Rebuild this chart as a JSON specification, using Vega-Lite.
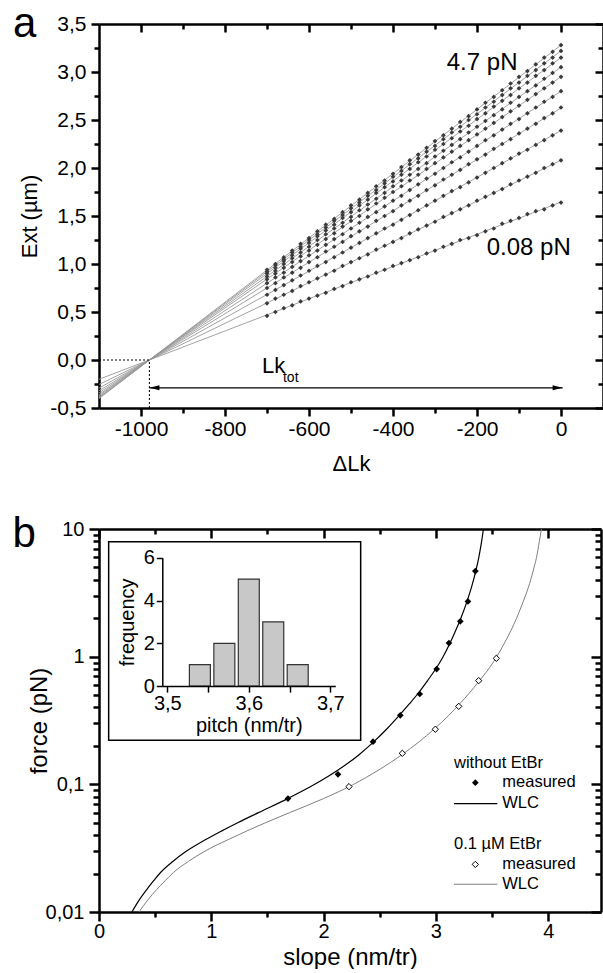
{
"$schema":"https://vega.github.io/schema/vega-lite/v6.json",
"background":"white",
"padding":{"left":12,"top":3,"right":0,"bottom":0},
"config":{"font":"Liberation Sans","view":{"stroke":null},
 "axis":{"grid":false,"domainColor":"#000","tickColor":"#000","labelColor":"#000","titleColor":"#000","titleFontWeight":"normal","labelFlush":false,"labelOverlap":false},
 "text":{"color":"#000"}},
"datasets":{
"aL":[
{"s":1,"x":-1100,"y":-0.201},{"s":1,"x":0,"y":1.645},
{"s":2,"x":-1100,"y":-0.255},{"s":2,"x":0,"y":2.08},
{"s":3,"x":-1100,"y":-0.293},{"s":3,"x":0,"y":2.39},
{"s":4,"x":-1100,"y":-0.321},{"s":4,"x":0,"y":2.625},
{"s":5,"x":-1100,"y":-0.343},{"s":5,"x":0,"y":2.8},
{"s":6,"x":-1100,"y":-0.361},{"s":6,"x":0,"y":2.95},
{"s":7,"x":-1100,"y":-0.373},{"s":7,"x":0,"y":3.05},
{"s":8,"x":-1100,"y":-0.386},{"s":8,"x":0,"y":3.15},
{"s":9,"x":-1100,"y":-0.394},{"s":9,"x":0,"y":3.22},
{"s":10,"x":-1100,"y":-0.402},{"s":10,"x":0,"y":3.28}
],
"aP":[
{"s":1,"x":-700,"y":0.46},{"s":1,"x":-680,"y":0.5},{"s":1,"x":-660,"y":0.54},{"s":1,"x":-640,"y":0.57},{"s":1,"x":-620,"y":0.61},{"s":1,"x":-600,"y":0.64},{"s":1,"x":-580,"y":0.67},{"s":1,"x":-560,"y":0.7},{"s":1,"x":-540,"y":0.74},{"s":1,"x":-520,"y":0.77},{"s":1,"x":-500,"y":0.81},{"s":1,"x":-480,"y":0.84},{"s":1,"x":-460,"y":0.87},{"s":1,"x":-440,"y":0.91},{"s":1,"x":-420,"y":0.94},{"s":1,"x":-400,"y":0.98},{"s":1,"x":-380,"y":1.01},{"s":1,"x":-360,"y":1.04},{"s":1,"x":-340,"y":1.07},{"s":1,"x":-320,"y":1.11},{"s":1,"x":-300,"y":1.14},{"s":1,"x":-280,"y":1.18},{"s":1,"x":-260,"y":1.21},{"s":1,"x":-240,"y":1.25},{"s":1,"x":-220,"y":1.27},{"s":1,"x":-200,"y":1.3},{"s":1,"x":-180,"y":1.34},{"s":1,"x":-160,"y":1.37},{"s":1,"x":-140,"y":1.42},{"s":1,"x":-120,"y":1.45},{"s":1,"x":-100,"y":1.48},{"s":1,"x":-80,"y":1.52},{"s":1,"x":-60,"y":1.55},{"s":1,"x":-40,"y":1.57},{"s":1,"x":-20,"y":1.61},{"s":1,"x":0,"y":1.64},
{"s":2,"x":-700,"y":0.59},{"s":2,"x":-680,"y":0.64},{"s":2,"x":-660,"y":0.68},{"s":2,"x":-640,"y":0.72},{"s":2,"x":-620,"y":0.77},{"s":2,"x":-600,"y":0.81},{"s":2,"x":-580,"y":0.85},{"s":2,"x":-560,"y":0.89},{"s":2,"x":-540,"y":0.93},{"s":2,"x":-520,"y":0.98},{"s":2,"x":-500,"y":1.02},{"s":2,"x":-480,"y":1.06},{"s":2,"x":-460,"y":1.1},{"s":2,"x":-440,"y":1.15},{"s":2,"x":-420,"y":1.19},{"s":2,"x":-400,"y":1.23},{"s":2,"x":-380,"y":1.27},{"s":2,"x":-360,"y":1.32},{"s":2,"x":-340,"y":1.36},{"s":2,"x":-320,"y":1.4},{"s":2,"x":-300,"y":1.44},{"s":2,"x":-280,"y":1.49},{"s":2,"x":-260,"y":1.53},{"s":2,"x":-240,"y":1.57},{"s":2,"x":-220,"y":1.61},{"s":2,"x":-200,"y":1.66},{"s":2,"x":-180,"y":1.7},{"s":2,"x":-160,"y":1.74},{"s":2,"x":-140,"y":1.78},{"s":2,"x":-120,"y":1.83},{"s":2,"x":-100,"y":1.87},{"s":2,"x":-80,"y":1.91},{"s":2,"x":-60,"y":1.95},{"s":2,"x":-40,"y":2.0},{"s":2,"x":-20,"y":2.04},{"s":2,"x":0,"y":2.08},
{"s":3,"x":-700,"y":0.68},{"s":3,"x":-680,"y":0.73},{"s":3,"x":-660,"y":0.78},{"s":3,"x":-640,"y":0.83},{"s":3,"x":-620,"y":0.88},{"s":3,"x":-600,"y":0.93},{"s":3,"x":-580,"y":0.98},{"s":3,"x":-560,"y":1.02},{"s":3,"x":-540,"y":1.07},{"s":3,"x":-520,"y":1.12},{"s":3,"x":-500,"y":1.17},{"s":3,"x":-480,"y":1.22},{"s":3,"x":-460,"y":1.27},{"s":3,"x":-440,"y":1.32},{"s":3,"x":-420,"y":1.37},{"s":3,"x":-400,"y":1.41},{"s":3,"x":-380,"y":1.46},{"s":3,"x":-360,"y":1.51},{"s":3,"x":-340,"y":1.56},{"s":3,"x":-320,"y":1.61},{"s":3,"x":-300,"y":1.66},{"s":3,"x":-280,"y":1.71},{"s":3,"x":-260,"y":1.76},{"s":3,"x":-240,"y":1.8},{"s":3,"x":-220,"y":1.85},{"s":3,"x":-200,"y":1.9},{"s":3,"x":-180,"y":1.95},{"s":3,"x":-160,"y":2.0},{"s":3,"x":-140,"y":2.05},{"s":3,"x":-120,"y":2.1},{"s":3,"x":-100,"y":2.15},{"s":3,"x":-80,"y":2.19},{"s":3,"x":-60,"y":2.24},{"s":3,"x":-40,"y":2.29},{"s":3,"x":-20,"y":2.34},{"s":3,"x":0,"y":2.39},
{"s":4,"x":-700,"y":0.75},{"s":4,"x":-680,"y":0.8},{"s":4,"x":-660,"y":0.86},{"s":4,"x":-640,"y":0.91},{"s":4,"x":-620,"y":0.96},{"s":4,"x":-600,"y":1.02},{"s":4,"x":-580,"y":1.07},{"s":4,"x":-560,"y":1.13},{"s":4,"x":-540,"y":1.18},{"s":4,"x":-520,"y":1.23},{"s":4,"x":-500,"y":1.29},{"s":4,"x":-480,"y":1.34},{"s":4,"x":-460,"y":1.39},{"s":4,"x":-440,"y":1.45},{"s":4,"x":-420,"y":1.5},{"s":4,"x":-400,"y":1.55},{"s":4,"x":-380,"y":1.61},{"s":4,"x":-360,"y":1.66},{"s":4,"x":-340,"y":1.71},{"s":4,"x":-320,"y":1.77},{"s":4,"x":-300,"y":1.82},{"s":4,"x":-280,"y":1.88},{"s":4,"x":-260,"y":1.93},{"s":4,"x":-240,"y":1.98},{"s":4,"x":-220,"y":2.04},{"s":4,"x":-200,"y":2.09},{"s":4,"x":-180,"y":2.14},{"s":4,"x":-160,"y":2.2},{"s":4,"x":-140,"y":2.25},{"s":4,"x":-120,"y":2.3},{"s":4,"x":-100,"y":2.36},{"s":4,"x":-80,"y":2.41},{"s":4,"x":-60,"y":2.46},{"s":4,"x":-40,"y":2.52},{"s":4,"x":-20,"y":2.57},{"s":4,"x":0,"y":2.63},
{"s":5,"x":-700,"y":0.8},{"s":5,"x":-680,"y":0.86},{"s":5,"x":-660,"y":0.91},{"s":5,"x":-640,"y":0.97},{"s":5,"x":-620,"y":1.03},{"s":5,"x":-600,"y":1.09},{"s":5,"x":-580,"y":1.14},{"s":5,"x":-560,"y":1.2},{"s":5,"x":-540,"y":1.26},{"s":5,"x":-520,"y":1.31},{"s":5,"x":-500,"y":1.37},{"s":5,"x":-480,"y":1.43},{"s":5,"x":-460,"y":1.49},{"s":5,"x":-440,"y":1.54},{"s":5,"x":-420,"y":1.6},{"s":5,"x":-400,"y":1.66},{"s":5,"x":-380,"y":1.71},{"s":5,"x":-360,"y":1.77},{"s":5,"x":-340,"y":1.83},{"s":5,"x":-320,"y":1.89},{"s":5,"x":-300,"y":1.94},{"s":5,"x":-280,"y":2.0},{"s":5,"x":-260,"y":2.06},{"s":5,"x":-240,"y":2.11},{"s":5,"x":-220,"y":2.17},{"s":5,"x":-200,"y":2.23},{"s":5,"x":-180,"y":2.29},{"s":5,"x":-160,"y":2.34},{"s":5,"x":-140,"y":2.4},{"s":5,"x":-120,"y":2.46},{"s":5,"x":-100,"y":2.51},{"s":5,"x":-80,"y":2.57},{"s":5,"x":-60,"y":2.63},{"s":5,"x":-40,"y":2.69},{"s":5,"x":-20,"y":2.74},{"s":5,"x":0,"y":2.8},
{"s":6,"x":-700,"y":0.84},{"s":6,"x":-680,"y":0.9},{"s":6,"x":-660,"y":0.96},{"s":6,"x":-640,"y":1.02},{"s":6,"x":-620,"y":1.08},{"s":6,"x":-600,"y":1.14},{"s":6,"x":-580,"y":1.2},{"s":6,"x":-560,"y":1.26},{"s":6,"x":-540,"y":1.32},{"s":6,"x":-520,"y":1.39},{"s":6,"x":-500,"y":1.45},{"s":6,"x":-480,"y":1.5},{"s":6,"x":-460,"y":1.57},{"s":6,"x":-440,"y":1.63},{"s":6,"x":-420,"y":1.69},{"s":6,"x":-400,"y":1.75},{"s":6,"x":-380,"y":1.81},{"s":6,"x":-360,"y":1.87},{"s":6,"x":-340,"y":1.93},{"s":6,"x":-320,"y":1.99},{"s":6,"x":-300,"y":2.05},{"s":6,"x":-280,"y":2.11},{"s":6,"x":-260,"y":2.17},{"s":6,"x":-240,"y":2.23},{"s":6,"x":-220,"y":2.29},{"s":6,"x":-200,"y":2.35},{"s":6,"x":-180,"y":2.41},{"s":6,"x":-160,"y":2.47},{"s":6,"x":-140,"y":2.53},{"s":6,"x":-120,"y":2.59},{"s":6,"x":-100,"y":2.65},{"s":6,"x":-80,"y":2.71},{"s":6,"x":-60,"y":2.77},{"s":6,"x":-40,"y":2.83},{"s":6,"x":-20,"y":2.89},{"s":6,"x":0,"y":2.95},
{"s":7,"x":-700,"y":0.87},{"s":7,"x":-680,"y":0.93},{"s":7,"x":-660,"y":1.0},{"s":7,"x":-640,"y":1.06},{"s":7,"x":-620,"y":1.12},{"s":7,"x":-600,"y":1.18},{"s":7,"x":-580,"y":1.25},{"s":7,"x":-560,"y":1.31},{"s":7,"x":-540,"y":1.37},{"s":7,"x":-520,"y":1.43},{"s":7,"x":-500,"y":1.49},{"s":7,"x":-480,"y":1.56},{"s":7,"x":-460,"y":1.62},{"s":7,"x":-440,"y":1.68},{"s":7,"x":-420,"y":1.74},{"s":7,"x":-400,"y":1.81},{"s":7,"x":-380,"y":1.87},{"s":7,"x":-360,"y":1.93},{"s":7,"x":-340,"y":1.99},{"s":7,"x":-320,"y":2.05},{"s":7,"x":-300,"y":2.12},{"s":7,"x":-280,"y":2.18},{"s":7,"x":-260,"y":2.24},{"s":7,"x":-240,"y":2.3},{"s":7,"x":-220,"y":2.37},{"s":7,"x":-200,"y":2.43},{"s":7,"x":-180,"y":2.49},{"s":7,"x":-160,"y":2.55},{"s":7,"x":-140,"y":2.61},{"s":7,"x":-120,"y":2.68},{"s":7,"x":-100,"y":2.74},{"s":7,"x":-80,"y":2.8},{"s":7,"x":-60,"y":2.86},{"s":7,"x":-40,"y":2.93},{"s":7,"x":-20,"y":2.99},{"s":7,"x":0,"y":3.05},
{"s":8,"x":-700,"y":0.9},{"s":8,"x":-680,"y":0.96},{"s":8,"x":-660,"y":1.03},{"s":8,"x":-640,"y":1.09},{"s":8,"x":-620,"y":1.16},{"s":8,"x":-600,"y":1.22},{"s":8,"x":-580,"y":1.29},{"s":8,"x":-560,"y":1.35},{"s":8,"x":-540,"y":1.41},{"s":8,"x":-520,"y":1.48},{"s":8,"x":-500,"y":1.54},{"s":8,"x":-480,"y":1.61},{"s":8,"x":-460,"y":1.67},{"s":8,"x":-440,"y":1.74},{"s":8,"x":-420,"y":1.8},{"s":8,"x":-400,"y":1.86},{"s":8,"x":-380,"y":1.93},{"s":8,"x":-360,"y":1.99},{"s":8,"x":-340,"y":2.06},{"s":8,"x":-320,"y":2.12},{"s":8,"x":-300,"y":2.19},{"s":8,"x":-280,"y":2.25},{"s":8,"x":-260,"y":2.31},{"s":8,"x":-240,"y":2.38},{"s":8,"x":-220,"y":2.44},{"s":8,"x":-200,"y":2.51},{"s":8,"x":-180,"y":2.57},{"s":8,"x":-160,"y":2.64},{"s":8,"x":-140,"y":2.7},{"s":8,"x":-120,"y":2.76},{"s":8,"x":-100,"y":2.83},{"s":8,"x":-80,"y":2.89},{"s":8,"x":-60,"y":2.96},{"s":8,"x":-40,"y":3.02},{"s":8,"x":-20,"y":3.09},{"s":8,"x":0,"y":3.15},
{"s":9,"x":-700,"y":0.92},{"s":9,"x":-680,"y":0.99},{"s":9,"x":-660,"y":1.05},{"s":9,"x":-640,"y":1.12},{"s":9,"x":-620,"y":1.18},{"s":9,"x":-600,"y":1.25},{"s":9,"x":-580,"y":1.31},{"s":9,"x":-560,"y":1.38},{"s":9,"x":-540,"y":1.45},{"s":9,"x":-520,"y":1.51},{"s":9,"x":-500,"y":1.58},{"s":9,"x":-480,"y":1.64},{"s":9,"x":-460,"y":1.71},{"s":9,"x":-440,"y":1.77},{"s":9,"x":-420,"y":1.84},{"s":9,"x":-400,"y":1.91},{"s":9,"x":-380,"y":1.97},{"s":9,"x":-360,"y":2.04},{"s":9,"x":-340,"y":2.1},{"s":9,"x":-320,"y":2.17},{"s":9,"x":-300,"y":2.23},{"s":9,"x":-280,"y":2.3},{"s":9,"x":-260,"y":2.37},{"s":9,"x":-240,"y":2.43},{"s":9,"x":-220,"y":2.5},{"s":9,"x":-200,"y":2.56},{"s":9,"x":-180,"y":2.63},{"s":9,"x":-160,"y":2.69},{"s":9,"x":-140,"y":2.76},{"s":9,"x":-120,"y":2.83},{"s":9,"x":-100,"y":2.89},{"s":9,"x":-80,"y":2.96},{"s":9,"x":-60,"y":3.02},{"s":9,"x":-40,"y":3.09},{"s":9,"x":-20,"y":3.15},{"s":9,"x":0,"y":3.22},
{"s":10,"x":-700,"y":0.94},{"s":10,"x":-680,"y":1.0},{"s":10,"x":-660,"y":1.07},{"s":10,"x":-640,"y":1.14},{"s":10,"x":-620,"y":1.21},{"s":10,"x":-600,"y":1.27},{"s":10,"x":-580,"y":1.34},{"s":10,"x":-560,"y":1.41},{"s":10,"x":-540,"y":1.47},{"s":10,"x":-520,"y":1.54},{"s":10,"x":-500,"y":1.61},{"s":10,"x":-480,"y":1.67},{"s":10,"x":-460,"y":1.74},{"s":10,"x":-440,"y":1.81},{"s":10,"x":-420,"y":1.87},{"s":10,"x":-400,"y":1.94},{"s":10,"x":-380,"y":2.01},{"s":10,"x":-360,"y":2.08},{"s":10,"x":-340,"y":2.14},{"s":10,"x":-320,"y":2.21},{"s":10,"x":-300,"y":2.28},{"s":10,"x":-280,"y":2.34},{"s":10,"x":-260,"y":2.41},{"s":10,"x":-240,"y":2.48},{"s":10,"x":-220,"y":2.54},{"s":10,"x":-200,"y":2.61},{"s":10,"x":-180,"y":2.68},{"s":10,"x":-160,"y":2.74},{"s":10,"x":-140,"y":2.81},{"s":10,"x":-120,"y":2.88},{"s":10,"x":-100,"y":2.95},{"s":10,"x":-80,"y":3.01},{"s":10,"x":-60,"y":3.08},{"s":10,"x":-40,"y":3.15},{"s":10,"x":-20,"y":3.21},{"s":10,"x":0,"y":3.28}
],
"aD":[{"x":-1100,"x2":-980,"y":0,"y2":0},{"x":-980,"x2":-980,"y":-0.5,"y2":0}],
"aA":[{"x":-980,"x2":4,"y":-0.29}],
"aH":[{"x":-968,"y":-0.29,"d":"L"},{"x":-8,"y":-0.29,"d":"R"}],
"aT":[{"x":-272,"y":3.09,"t":"4.7 pN"},{"x":-177,"y":1.165,"t":"0.08 pN"}],
"aLk":[{"x":-712,"y":-0.14,"t":"Lk"}],
"aTot":[{"x":-662,"y":-0.233,"t":"tot"}],
"aLab":[{"x":-1305,"y":3.36,"t":"a"}],
"bK":[{"x":0.293,"y":0.01},{"x":0.36,"y":0.0125},{"x":0.425,"y":0.015},{"x":0.485,"y":0.0175},{"x":0.548,"y":0.0204},{"x":0.66,"y":0.025},{"x":0.78,"y":0.03},{"x":0.955,"y":0.0371},{"x":1.09,"y":0.043},{"x":1.235,"y":0.05},{"x":1.42,"y":0.06},{"x":1.68,"y":0.0773},{"x":1.921,"y":0.1},{"x":2.132,"y":0.13},{"x":2.313,"y":0.17},{"x":2.448,"y":0.216},{"x":2.56,"y":0.27},{"x":2.674,"y":0.347},{"x":2.767,"y":0.43},{"x":2.837,"y":0.51},{"x":2.926,"y":0.65},{"x":2.998,"y":0.8},{"x":3.064,"y":1.0},{"x":3.126,"y":1.28},{"x":3.176,"y":1.6},{"x":3.222,"y":2.0},{"x":3.277,"y":2.71},{"x":3.317,"y":3.5},{"x":3.355,"y":4.68},{"x":3.382,"y":6},{"x":3.407,"y":8},{"x":3.423,"y":10}],
"bG":[{"x":0.356,"y":0.01},{"x":0.437,"y":0.0125},{"x":0.514,"y":0.015},{"x":0.587,"y":0.0175},{"x":0.663,"y":0.0204},{"x":0.799,"y":0.025},{"x":0.944,"y":0.03},{"x":1.156,"y":0.0371},{"x":1.313,"y":0.043},{"x":1.482,"y":0.05},{"x":1.697,"y":0.06},{"x":1.999,"y":0.0773},{"x":2.267,"y":0.1},{"x":2.494,"y":0.13},{"x":2.695,"y":0.17},{"x":2.852,"y":0.216},{"x":2.982,"y":0.27},{"x":3.115,"y":0.347},{"x":3.215,"y":0.43},{"x":3.291,"y":0.51},{"x":3.388,"y":0.65},{"x":3.469,"y":0.8},{"x":3.542,"y":1.0},{"x":3.611,"y":1.28},{"x":3.668,"y":1.6},{"x":3.718,"y":2.0},{"x":3.778,"y":2.71},{"x":3.824,"y":3.5},{"x":3.865,"y":4.68},{"x":3.896,"y":6},{"x":3.921,"y":8},{"x":3.94,"y":10}],
"bMK":[{"x":1.683,"y":0.0773},{"x":2.128,"y":0.1197},{"x":2.44,"y":0.216},{"x":2.683,"y":0.347},{"x":2.856,"y":0.51},{"x":3.007,"y":0.8},{"x":3.116,"y":1.278},{"x":3.217,"y":1.89},{"x":3.285,"y":2.71},{"x":3.351,"y":4.68}],
"bMG":[{"x":2.226,"y":0.0959},{"x":2.701,"y":0.175},{"x":2.995,"y":0.27},{"x":3.203,"y":0.408},{"x":3.381,"y":0.649},{"x":3.538,"y":0.97}],
"bLT":[{"x":3.161,"y":0.148,"t":"without EtBr"},{"x":3.591,"y":0.104,"t":"measured"},{"x":3.591,"y":0.0712,"t":"WLC"},{"x":3.161,"y":0.0339,"t":"0.1 µM EtBr"},{"x":3.591,"y":0.0236,"t":"measured"},{"x":3.591,"y":0.0165,"t":"WLC"}],
"bLK":[{"x":3.161,"x2":3.547,"y":0.0706}],
"bLG":[{"x":3.161,"x2":3.547,"y":0.0165}],
"bLPK":[{"x":3.351,"y":0.1031}],
"bLPG":[{"x":3.351,"y":0.0236}],
"bBox":[{"x":0.086,"x2":2.33,"y":0.221,"y2":7.95}],
"bLab":[{"x":-0.77,"y":7.2,"t":"b"}],
"hist":[{"p":3.54,"n":1},{"p":3.57,"n":2},{"p":3.6,"n":5},{"p":3.63,"n":3},{"p":3.66,"n":1}]
},
"spacing":121,
"bounds":"flush",
"vconcat":[
{
 "width":504,"height":384,
 "resolve":{"axis":{"x":"independent","y":"independent"}},
 "layer":[
  {"data":{"name":"aL"},"mark":{"type":"line","color":"#999999","strokeWidth":0.9},
   "encoding":{
    "x":{"field":"x","type":"quantitative","scale":{"domain":[-1100,100],"nice":false,"zero":false},
     "axis":{"orient":"bottom","values":[-1000,-900,-800,-700,-600,-500,-400,-300,-200,-100,0],
      "labelExpr":"datum.value % 200 == 0 ? '' + datum.value : ''",
      "tickSize":{"condition":{"test":"datum.value % 200 == 0","value":8},"value":5},
      "tickWidth":2.5,"domainWidth":2.5,"labelFontSize":21,"labelPadding":2,
      "title":"ΔLk","titleFontSize":22,"titlePadding":14}},
    "y":{"field":"y","type":"quantitative","scale":{"domain":[-0.5,3.5],"nice":false,"zero":false},
     "axis":{"orient":"left","values":[-0.5,-0.25,0,0.25,0.5,0.75,1,1.25,1.5,1.75,2,2.25,2.5,2.75,3,3.25,3.5],
      "labelExpr":"(datum.value*2) % 1 == 0 ? replace(replace(format(datum.value,'.1f'),'.',','),'−','-') : ''",
      "tickSize":{"condition":{"test":"(datum.value*2) % 1 == 0","value":8},"value":5},
      "tickWidth":2.5,"domainWidth":2.5,"labelFontSize":21,"labelPadding":5,
      "title":"Ext (µm)","titleFontSize":22,"titlePadding":8}},
    "detail":{"field":"s","type":"nominal"}}},
  {"data":{"name":"aP"},"mark":{"type":"point","shape":"diamond","filled":true,"color":"#3a3a3a","size":22,"opacity":1},
   "encoding":{
    "x":{"field":"x","type":"quantitative","scale":{"domain":[-1100,100],"nice":false,"zero":false},"axis":null},
    "y":{"field":"y","type":"quantitative","scale":{"domain":[-0.5,3.5],"nice":false,"zero":false},"axis":null}}},
  {"data":{"name":"aD"},"mark":{"type":"rule","color":"#000","strokeWidth":1,"strokeDash":[2,2]},
   "encoding":{
    "x":{"field":"x","type":"quantitative","scale":{"domain":[-1100,100],"nice":false,"zero":false},"axis":null},
    "x2":{"field":"x2"},
    "y":{"field":"y","type":"quantitative","scale":{"domain":[-0.5,3.5],"nice":false,"zero":false},"axis":null},
    "y2":{"field":"y2"}}},
  {"data":{"name":"aA"},"mark":{"type":"rule","color":"#000","strokeWidth":1.2},
   "encoding":{
    "x":{"field":"x","type":"quantitative","scale":{"domain":[-1100,100],"nice":false,"zero":false},"axis":null},
    "x2":{"field":"x2"},
    "y":{"field":"y","type":"quantitative","scale":{"domain":[-0.5,3.5],"nice":false,"zero":false},"axis":null}}},
  {"data":{"name":"aH"},"mark":{"type":"point","filled":true,"color":"#000","size":100,"opacity":1},
   "encoding":{
    "x":{"field":"x","type":"quantitative","scale":{"domain":[-1100,100],"nice":false,"zero":false},"axis":null},
    "y":{"field":"y","type":"quantitative","scale":{"domain":[-0.5,3.5],"nice":false,"zero":false},"axis":null},
    "shape":{"field":"d","type":"nominal","scale":{"domain":["L","R"],"range":["M-1,0L1,-0.5L1,0.5Z","M1,0L-1,-0.5L-1,0.5Z"]},"legend":null}}},
  {"data":{"name":"aT"},"mark":{"type":"text","align":"left","baseline":"middle","fontSize":24},
   "encoding":{
    "x":{"field":"x","type":"quantitative","scale":{"domain":[-1100,100],"nice":false,"zero":false},"axis":null},
    "y":{"field":"y","type":"quantitative","scale":{"domain":[-0.5,3.5],"nice":false,"zero":false},"axis":null},
    "text":{"field":"t"}}},
  {"data":{"name":"aLk"},"mark":{"type":"text","align":"left","baseline":"alphabetic","fontSize":22},
   "encoding":{
    "x":{"field":"x","type":"quantitative","scale":{"domain":[-1100,100],"nice":false,"zero":false},"axis":null},
    "y":{"field":"y","type":"quantitative","scale":{"domain":[-0.5,3.5],"nice":false,"zero":false},"axis":null},
    "text":{"field":"t"}}},
  {"data":{"name":"aTot"},"mark":{"type":"text","align":"left","baseline":"alphabetic","fontSize":14},
   "encoding":{
    "x":{"field":"x","type":"quantitative","scale":{"domain":[-1100,100],"nice":false,"zero":false},"axis":null},
    "y":{"field":"y","type":"quantitative","scale":{"domain":[-0.5,3.5],"nice":false,"zero":false},"axis":null},
    "text":{"field":"t"}}},
  {"data":{"name":"aLab"},"mark":{"type":"text","align":"left","baseline":"alphabetic","fontSize":42},
   "encoding":{
    "x":{"field":"x","type":"quantitative","scale":{"domain":[-1100,100],"nice":false,"zero":false},"axis":null},
    "y":{"field":"y","type":"quantitative","scale":{"domain":[-0.5,3.5],"nice":false,"zero":false},"axis":null},
    "text":{"field":"t"}}},
  {"data":{"name":"aL"},"mark":{"type":"line","opacity":0},
   "encoding":{
    "x":{"field":"x","type":"quantitative","scale":{"domain":[-1100,100],"nice":false,"zero":false},
     "axis":{"orient":"top","values":[-1000,-900,-800,-700,-600,-500,-400,-300,-200,-100,0],"labels":false,
      "tickSize":{"condition":{"test":"datum.value % 200 == 0","value":-8},"value":-5},
      "tickWidth":2.5,"domainWidth":2.5,"title":null}},
    "y":{"field":"y","type":"quantitative","scale":{"domain":[-0.5,3.5],"nice":false,"zero":false},
     "axis":{"orient":"right","values":[-0.5,-0.25,0,0.25,0.5,0.75,1,1.25,1.5,1.75,2,2.25,2.5,2.75,3,3.25,3.5],"labels":false,
      "tickSize":{"condition":{"test":"(datum.value*2) % 1 == 0","value":-8},"value":-5},
      "tickWidth":2.5,"domainWidth":2.5,"title":null}},
    "detail":{"field":"s","type":"nominal"}}}
 ]
},
{
 "width":502,"height":383,
 "resolve":{"scale":{"x":"independent","y":"independent"},"axis":{"x":"independent","y":"independent"}},
 "layer":[
  {
   "resolve":{"axis":{"x":"independent","y":"independent"}},
   "layer":[
    {"data":{"name":"bK"},"mark":{"type":"line","color":"#000","strokeWidth":1.2,"interpolate":"monotone"},
     "encoding":{
      "x":{"field":"x","type":"quantitative","scale":{"domain":[0,4.47],"nice":false,"zero":false},
       "axis":{"orient":"bottom","values":[0,0.5,1,1.5,2,2.5,3,3.5,4],
        "labelExpr":"datum.value % 1 == 0 ? '' + datum.value : ''",
        "tickSize":{"condition":{"test":"datum.value % 1 == 0","value":9},"value":5},
        "tickWidth":2.5,"domainWidth":2.5,"labelFontSize":20,"labelPadding":0,
        "title":"slope (nm/tr)","titleFontSize":24,"titlePadding":4}},
      "y":{"field":"y","type":"quantitative","scale":{"type":"log","domain":[0.01,10],"nice":false},
       "axis":{"orient":"left","values":[0.01,0.02,0.03,0.04,0.05,0.06,0.07,0.08,0.09,0.1,0.2,0.3,0.4,0.5,0.6,0.7,0.8,0.9,1,2,3,4,5,6,7,8,9,10],
        "labelExpr":"datum.value == 0.01 ? '0,01' : datum.value == 0.1 ? '0,1' : datum.value == 1 ? '1' : datum.value == 10 ? '10' : ''",
        "tickSize":{"condition":{"test":"datum.value == 0.01 || datum.value == 0.1 || datum.value == 1 || datum.value == 10","value":10},"value":6},
        "tickWidth":2.5,"domainWidth":2.5,"labelFontSize":20,"labelPadding":5,
        "title":"force (pN)","titleFontSize":24,"titlePadding":-6}}}},
    {"data":{"name":"bG"},"mark":{"type":"line","color":"#808080","strokeWidth":1,"interpolate":"monotone"},
     "encoding":{
      "x":{"field":"x","type":"quantitative","scale":{"domain":[0,4.47],"nice":false,"zero":false},"axis":null},
      "y":{"field":"y","type":"quantitative","scale":{"type":"log","domain":[0.01,10],"nice":false},"axis":null}}},
    {"data":{"name":"bMK"},"mark":{"type":"point","shape":"diamond","filled":true,"color":"#000","size":45,"opacity":1},
     "encoding":{
      "x":{"field":"x","type":"quantitative","scale":{"domain":[0,4.47],"nice":false,"zero":false},"axis":null},
      "y":{"field":"y","type":"quantitative","scale":{"type":"log","domain":[0.01,10],"nice":false},"axis":null}}},
    {"data":{"name":"bMG"},"mark":{"type":"point","shape":"diamond","filled":true,"fill":"white","stroke":"#000","strokeWidth":1,"size":40,"opacity":1},
     "encoding":{
      "x":{"field":"x","type":"quantitative","scale":{"domain":[0,4.47],"nice":false,"zero":false},"axis":null},
      "y":{"field":"y","type":"quantitative","scale":{"type":"log","domain":[0.01,10],"nice":false},"axis":null}}},
    {"data":{"name":"bLK"},"mark":{"type":"rule","color":"#000","strokeWidth":1.2},
     "encoding":{
      "x":{"field":"x","type":"quantitative","scale":{"domain":[0,4.47],"nice":false,"zero":false},"axis":null},
      "x2":{"field":"x2"},
      "y":{"field":"y","type":"quantitative","scale":{"type":"log","domain":[0.01,10],"nice":false},"axis":null}}},
    {"data":{"name":"bLG"},"mark":{"type":"rule","color":"#808080","strokeWidth":1},
     "encoding":{
      "x":{"field":"x","type":"quantitative","scale":{"domain":[0,4.47],"nice":false,"zero":false},"axis":null},
      "x2":{"field":"x2"},
      "y":{"field":"y","type":"quantitative","scale":{"type":"log","domain":[0.01,10],"nice":false},"axis":null}}},
    {"data":{"name":"bLPK"},"mark":{"type":"point","shape":"diamond","filled":true,"color":"#000","size":45,"opacity":1},
     "encoding":{
      "x":{"field":"x","type":"quantitative","scale":{"domain":[0,4.47],"nice":false,"zero":false},"axis":null},
      "y":{"field":"y","type":"quantitative","scale":{"type":"log","domain":[0.01,10],"nice":false},"axis":null}}},
    {"data":{"name":"bLPG"},"mark":{"type":"point","shape":"diamond","filled":true,"fill":"white","stroke":"#000","strokeWidth":1,"size":40,"opacity":1},
     "encoding":{
      "x":{"field":"x","type":"quantitative","scale":{"domain":[0,4.47],"nice":false,"zero":false},"axis":null},
      "y":{"field":"y","type":"quantitative","scale":{"type":"log","domain":[0.01,10],"nice":false},"axis":null}}},
    {"data":{"name":"bLT"},"mark":{"type":"text","align":"left","baseline":"middle","fontSize":16.5},
     "encoding":{
      "x":{"field":"x","type":"quantitative","scale":{"domain":[0,4.47],"nice":false,"zero":false},"axis":null},
      "y":{"field":"y","type":"quantitative","scale":{"type":"log","domain":[0.01,10],"nice":false},"axis":null},
      "text":{"field":"t"}}},
    {"data":{"name":"bLab"},"mark":{"type":"text","align":"left","baseline":"alphabetic","fontSize":42},
     "encoding":{
      "x":{"field":"x","type":"quantitative","scale":{"domain":[0,4.47],"nice":false,"zero":false},"axis":null},
      "y":{"field":"y","type":"quantitative","scale":{"type":"log","domain":[0.01,10],"nice":false},"axis":null},
      "text":{"field":"t"}}},
    {"data":{"name":"bBox"},"mark":{"type":"rect","fill":"white","stroke":"#000","strokeWidth":1.5},
     "encoding":{
      "x":{"field":"x","type":"quantitative","scale":{"domain":[0,4.47],"nice":false,"zero":false},"axis":null},
      "x2":{"field":"x2"},
      "y":{"field":"y","type":"quantitative","scale":{"type":"log","domain":[0.01,10],"nice":false},"axis":null},
      "y2":{"field":"y2"}}},
    {"data":{"name":"bK"},"mark":{"type":"line","opacity":0},
     "encoding":{
      "x":{"field":"x","type":"quantitative","scale":{"domain":[0,4.47],"nice":false,"zero":false},
       "axis":{"orient":"top","values":[0,0.5,1,1.5,2,2.5,3,3.5,4],"labels":false,
        "tickSize":{"condition":{"test":"datum.value % 1 == 0","value":-9},"value":-5},
        "tickWidth":2.5,"domainWidth":2.5,"title":null}},
      "y":{"field":"y","type":"quantitative","scale":{"type":"log","domain":[0.01,10],"nice":false},
       "axis":{"orient":"right","values":[0.01,0.02,0.03,0.04,0.05,0.06,0.07,0.08,0.09,0.1,0.2,0.3,0.4,0.5,0.6,0.7,0.8,0.9,1,2,3,4,5,6,7,8,9,10],"labels":false,
        "tickSize":{"condition":{"test":"datum.value == 0.01 || datum.value == 0.1 || datum.value == 1 || datum.value == 10","value":-10},"value":-6},
        "tickWidth":2.5,"domainWidth":2.5,"title":null}}}}
   ]
  },
  {"data":{"name":"hist"},"mark":{"type":"bar","width":21,"fill":"#c8c8c8","stroke":"#333","strokeWidth":1.2},
   "encoding":{
    "x":{"field":"p","type":"quantitative","scale":{"domain":[3.5,3.7],"range":[63.3,236.3],"nice":false,"zero":false},
     "axis":{"orient":"bottom","offset":-225.9,"zindex":2,"values":[3.5,3.55,3.6,3.65,3.7],
      "labelExpr":"abs(datum.value*10 - round(datum.value*10)) < 0.001 ? replace(format(datum.value,'.1f'),'.',',') : ''",
      "tickSize":6,"tickWidth":1.5,"domainWidth":1.5,"labelFontSize":20,"labelPadding":1,
      "title":"pitch (nm/tr)","titleFontSize":20,"titlePadding":2}},
    "y":{"field":"n","type":"quantitative","scale":{"domain":[0,6],"range":[157.1,28.7],"nice":false},
     "axis":{"orient":"left","offset":-63.3,"zindex":2,"values":[0,2,4,6],"format":"d",
      "tickSize":6,"tickWidth":1.5,"domainWidth":1.5,"labelFontSize":20,"labelPadding":2,
      "title":"frequency","titleFontSize":20,"titlePadding":6}}}}
 ]
}
]
}
